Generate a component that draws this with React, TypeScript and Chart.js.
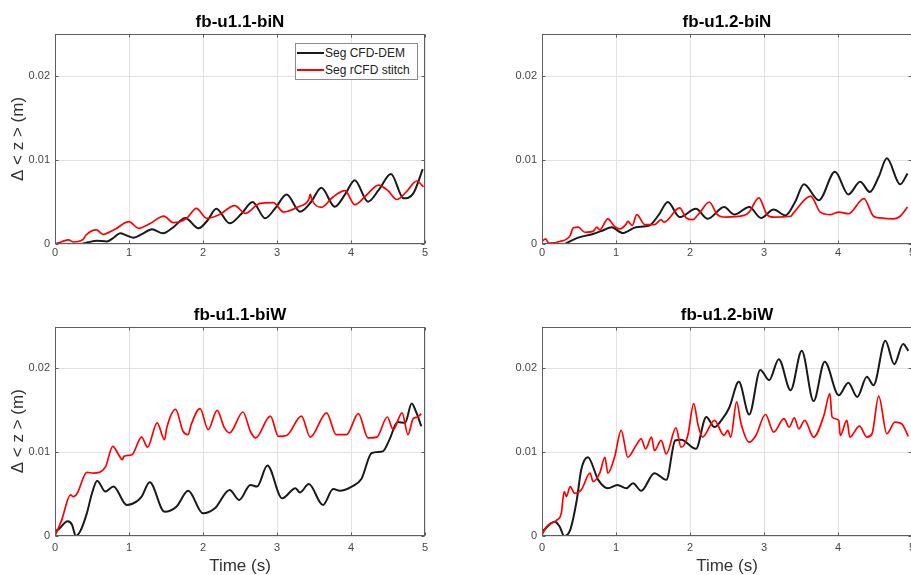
import { useEffect, useRef } from "react";
import { Chart, registerables } from "chart.js";

Chart.register(...registerables);

type Pt = [number, number]; // [time (s), Δ<z> (mm)]

const FONT = "'Liberation Sans', Arial, Helvetica, sans-serif";

const panelTitles = ["fb-u1.1-biN", "fb-u1.2-biN", "fb-u1.1-biW", "fb-u1.2-biW"];
const seriesNames = ["Seg CFD-DEM", "Seg rCFD stitch"];
const seriesColors = ["#1a1a1a", "#ff0000"];
const xTickValues = [0, 1, 2, 3, 4, 5];
const yTickValues = [0, 0.01, 0.02];
const xAxisLabel = "Time (s)";
const yAxisLabel = "Δ < z > (m)";

// ---- fb-u1.1-biN ----
const biN11Dem: Pt[] = [
  [0.23, 0], [0.34, 0], [0.45, 0.2], [0.56, 0.4], [0.7, 0.3], [0.8, 0.8], [0.88, 1.27],
  [0.97, 1.0], [1.06, 0.75], [1.18, 1.2], [1.31, 1.75], [1.46, 1.27], [1.6, 2.0],
  [1.76, 3.1], [1.94, 1.87], [2.06, 2.8], [2.18, 4.2], [2.36, 2.46], [2.52, 3.6],
  [2.67, 5.0], [2.84, 3.06], [2.98, 4.3], [3.13, 5.9], [3.31, 3.85], [3.46, 5.0],
  [3.6, 6.7], [3.78, 4.44], [3.92, 5.9], [4.05, 7.6], [4.23, 5.04], [4.38, 6.5],
  [4.54, 8.33], [4.71, 5.44], [4.84, 6.0], [4.97, 8.9],
];
const biN11Rcfd: Pt[] = [
  [0, 0], [0.1, 0.3], [0.18, 0.5], [0.25, 0.24], [0.38, 0.55], [0.42, 1.07], [0.56, 1.67],
  [0.65, 1.15], [0.81, 1.75], [1.0, 2.66], [1.13, 1.87], [1.28, 2.4], [1.47, 3.33],
  [1.6, 2.54], [1.78, 3.06], [1.91, 4.25], [2.05, 3.06], [2.21, 3.45], [2.43, 4.56],
  [2.57, 3.65], [2.77, 4.84], [2.95, 4.92], [3.09, 3.8], [3.29, 4.44], [3.43, 5.3],
  [3.45, 5.95], [3.47, 5.3], [3.6, 4.37], [3.76, 5.63], [3.92, 6.35], [4.05, 4.68],
  [4.21, 5.83], [4.37, 7.02], [4.5, 6.35], [4.62, 5.3], [4.75, 6.23], [4.89, 7.5], [4.98, 6.8],
];

// ---- fb-u1.2-biN ----
const biN12Dem: Pt[] = [
  [0.31, 0], [0.47, 0.7], [0.69, 1.2], [0.82, 1.6], [0.94, 2.0], [1.09, 1.3], [1.27, 2.0],
  [1.45, 2.2], [1.58, 3.5], [1.7, 5.0], [1.86, 3.2], [2.08, 4.2], [2.24, 3.0], [2.46, 4.4],
  [2.6, 3.5], [2.8, 4.4], [2.96, 3.1], [3.13, 4.1], [3.29, 3.4], [3.42, 5.0], [3.54, 7.1],
  [3.74, 5.2], [3.96, 8.6], [4.14, 5.9], [4.3, 7.4], [4.43, 6.2], [4.55, 8.0], [4.66, 10.2],
  [4.84, 7.1], [4.94, 8.4],
];
const biN12Rcfd: Pt[] = [
  [0, 0.3], [0.05, 0.6], [0.09, 0.1], [0.24, 0.3], [0.38, 1.0], [0.42, 1.9], [0.49, 2.0],
  [0.58, 1.4], [0.69, 1.5], [0.74, 2.0], [0.78, 1.7], [0.89, 3.0], [0.98, 2.1], [1.05, 1.8],
  [1.14, 2.4], [1.16, 2.7], [1.22, 2.2], [1.28, 3.5], [1.39, 2.3], [1.52, 2.3], [1.61, 2.9],
  [1.65, 2.6], [1.86, 4.3], [1.95, 3.1], [2.04, 2.9], [2.1, 3.4], [2.13, 3.7], [2.26, 5.0],
  [2.37, 3.5], [2.48, 3.2], [2.73, 3.4], [2.8, 3.8], [2.93, 5.5], [3.04, 3.5], [3.13, 3.2],
  [3.36, 3.3], [3.4, 3.7], [3.63, 5.7], [3.76, 3.8], [3.9, 3.5], [4.01, 3.8], [4.14, 3.6],
  [4.35, 5.4], [4.48, 3.3], [4.57, 3.1], [4.75, 3.0], [4.84, 3.3], [4.94, 4.4],
];

// ---- fb-u1.1-biW ----
const biW11Dem: Pt[] = [
  [0, 0.55], [0.05, 0.8], [0.17, 1.75], [0.23, 1.35], [0.28, 0], [0.34, 0.55], [0.43, 2.7],
  [0.5, 5.1], [0.57, 6.6], [0.68, 5.3], [0.79, 5.9], [0.97, 3.7], [1.1, 4.1], [1.17, 4.7],
  [1.28, 6.4], [1.48, 2.9], [1.64, 3.5], [1.8, 5.4], [2.0, 2.7], [2.16, 3.3], [2.36, 5.5],
  [2.49, 4.3], [2.64, 6.1], [2.73, 5.9], [2.87, 8.4], [3.07, 4.5], [3.25, 5.7], [3.31, 5.2],
  [3.43, 6.2], [3.62, 3.7], [3.76, 5.6], [3.85, 5.4], [4.01, 5.9], [4.14, 6.8], [4.28, 9.9],
  [4.43, 10.1], [4.52, 11.5], [4.63, 13.6], [4.73, 13.5], [4.82, 15.8], [4.88, 14.8],
  [4.95, 13.1],
];
const biW11Rcfd: Pt[] = [
  [0, 0], [0.09, 1.9], [0.21, 4.9], [0.25, 4.7], [0.3, 5.1], [0.43, 7.6], [0.52, 7.5],
  [0.68, 8.2], [0.78, 10.7], [0.86, 9.7], [0.91, 9.1], [0.93, 9.5], [1.04, 9.7], [1.17, 11.8],
  [1.25, 10.6], [1.38, 13.5], [1.48, 11.5], [1.51, 12.9], [1.63, 15.1], [1.73, 12.5],
  [1.8, 12.1], [1.84, 13.3], [1.96, 15.2], [2.07, 12.7], [2.19, 15.0], [2.29, 12.9],
  [2.36, 12.3], [2.54, 14.8], [2.64, 12.5], [2.71, 11.7], [2.91, 14.3], [3.02, 11.9],
  [3.13, 12.0], [3.33, 14.3], [3.45, 11.8], [3.67, 14.7], [3.8, 12.1], [3.94, 12.1],
  [4.1, 14.6], [4.23, 11.7], [4.35, 11.8], [4.49, 14.2], [4.57, 12.7], [4.69, 14.7],
  [4.77, 12.1], [4.84, 14.0], [4.9, 14.2], [4.95, 14.6],
];

// ---- fb-u1.2-biW ----
const biW12Dem: Pt[] = [
  [0, 0.5], [0.17, 1.7], [0.24, 1.1], [0.3, 0], [0.38, 0.7], [0.47, 4.3], [0.53, 7.9],
  [0.62, 9.4], [0.76, 6.7], [0.89, 5.7], [1.02, 6.1], [1.14, 5.7], [1.23, 6.3], [1.34, 5.4],
  [1.52, 7.5], [1.68, 6.7], [1.8, 11.4], [1.88, 11.5], [2.08, 10.4], [2.22, 14.2],
  [2.33, 13.0], [2.44, 14.0], [2.53, 15.3], [2.66, 18.4], [2.8, 14.5], [2.95, 19.8],
  [3.07, 18.6], [3.2, 21.1], [3.36, 17.4], [3.51, 22.1], [3.67, 16.1], [3.82, 20.8],
  [4.01, 16.8], [4.14, 18.3], [4.26, 16.6], [4.39, 19.0], [4.48, 18.0], [4.64, 23.3],
  [4.76, 20.5], [4.88, 22.9], [4.95, 22.1],
];
const biW12Rcfd: Pt[] = [
  [0, 0.1], [0.06, 1.1], [0.2, 1.9], [0.26, 2.7], [0.3, 5.3], [0.33, 4.7], [0.38, 5.9],
  [0.44, 5.1], [0.53, 5.5], [0.65, 7.5], [0.69, 6.5], [0.78, 7.5], [0.85, 9.4], [0.89, 7.5],
  [0.98, 9.4], [1.07, 12.6], [1.16, 9.4], [1.27, 10.8], [1.34, 11.6], [1.4, 10.4],
  [1.48, 11.8], [1.52, 10.2], [1.61, 11.4], [1.68, 9.8], [1.81, 12.9], [1.88, 10.6],
  [1.97, 12.0], [2.05, 15.8], [2.11, 13.2], [2.17, 11.8], [2.33, 13.8], [2.46, 12.0],
  [2.51, 12.6], [2.55, 11.8], [2.63, 16.0], [2.69, 13.4], [2.8, 11.2], [2.89, 12.0],
  [3.02, 14.5], [3.13, 12.4], [3.27, 14.0], [3.34, 13.0], [3.41, 14.1], [3.47, 12.8],
  [3.55, 13.8], [3.67, 11.8], [3.81, 14.4], [3.89, 17.0], [3.92, 14.2], [4.01, 13.8],
  [4.03, 12.0], [4.12, 13.8], [4.16, 11.8], [4.29, 13.1], [4.39, 11.8], [4.46, 12.2],
  [4.55, 16.7], [4.66, 12.2], [4.77, 13.6], [4.86, 13.4], [4.95, 11.9],
];

type Geom = {
  x: number; y: number; w: number; h: number;
  yWidth: number; padRight: number; titleTop: number; titleBottom: number;
  xHeight: number; tickPad: number; showY: boolean; showX: boolean;
};

// MATLAB-style box around the axes with short inward tick marks on all four sides
const boxPlugin = {
  id: "matlabBox",
  afterDraw(chart: any) {
    const { ctx, chartArea, scales } = chart;
    const l = Math.round(chartArea.left) + 0.5;
    const t = Math.round(chartArea.top) + 0.5;
    const r = Math.round(chartArea.right) - 0.5;
    const b = Math.round(chartArea.bottom) - 0.5;
    ctx.save();
    ctx.strokeStyle = "#5e5e5e";
    ctx.lineWidth = 1;
    ctx.strokeRect(l, t, r - l, b - t);
    ctx.beginPath();
    const len = 3;
    for (const v of xTickValues) {
      const px = Math.round(scales.x.getPixelForValue(v)) + 0.5;
      ctx.moveTo(px, b);
      ctx.lineTo(px, b - len);
      ctx.moveTo(px, t);
      ctx.lineTo(px, t + len);
    }
    for (const v of yTickValues) {
      const py = Math.round(scales.y.getPixelForValue(v)) + 0.5;
      ctx.moveTo(l, py);
      ctx.lineTo(l + len, py);
      ctx.moveTo(r, py);
      ctx.lineTo(r - len, py);
    }
    ctx.stroke();
    ctx.restore();
  },
};

function Panel({ geom, title, dem, rcfd }: { geom: Geom; title: string; dem: Pt[]; rcfd: Pt[] }) {
  const ref = useRef<HTMLCanvasElement>(null);
  useEffect(() => {
    const chart = new Chart(ref.current as HTMLCanvasElement, {
      type: "line",
      data: {
        datasets: [
          {
            label: seriesNames[0],
            data: dem.map(([t, v]) => ({ x: t, y: v / 1000 })),
            borderColor: seriesColors[0],
            borderWidth: 2,
            pointRadius: 0,
            cubicInterpolationMode: "monotone",
            order: 1,
          },
          {
            label: seriesNames[1],
            data: rcfd.map(([t, v]) => ({ x: t, y: v / 1000 })),
            borderColor: seriesColors[1],
            borderWidth: 1.7,
            pointRadius: 0,
            cubicInterpolationMode: "monotone",
            order: 0,
          },
        ],
      } as any,
      options: {
        responsive: false,
        animation: false,
        events: [],
        layout: { padding: { left: 0, right: geom.padRight, top: 0, bottom: 0 } },
        plugins: {
          legend: { display: false },
          tooltip: { enabled: false },
          title: {
            display: true,
            text: title,
            fullSize: false,
            color: "#000",
            font: { family: FONT, size: 17, weight: "bold", lineHeight: 1.2 },
            padding: { top: geom.titleTop, bottom: geom.titleBottom },
          },
        },
        scales: {
          x: {
            type: "linear",
            min: 0,
            max: 5,
            afterBuildTicks: (s: any) => {
              s.ticks = xTickValues.map((v) => ({ value: v }));
            },
            afterFit: (s: any) => {
              s.height = geom.xHeight;
            },
            grid: { color: "#e2e2e2", lineWidth: 1, drawTicks: false },
            border: { display: false },
            ticks: {
              color: "#474747",
              padding: geom.tickPad,
              maxRotation: 0,
              font: { family: FONT, size: 11 },
            },
            title: {
              display: geom.showX,
              text: xAxisLabel,
              color: "#333",
              font: { family: FONT, size: 17, lineHeight: 1 },
              padding: { top: 0, bottom: 0 },
            },
          },
          y: {
            type: "linear",
            min: 0,
            max: 0.025,
            afterBuildTicks: (s: any) => {
              s.ticks = yTickValues.map((v) => ({ value: v }));
            },
            afterFit: (s: any) => {
              s.width = geom.yWidth;
            },
            grid: { color: "#e2e2e2", lineWidth: 1, drawTicks: false },
            border: { display: false },
            ticks: {
              color: "#474747",
              padding: 5,
              font: { family: FONT, size: 11 },
              callback: (v: any) => String(+Number(v).toFixed(4)),
            },
            title: {
              display: geom.showY,
              text: yAxisLabel,
              color: "#333",
              font: { family: FONT, size: 17, lineHeight: 1.2 },
              padding: { top: 8, bottom: 0 },
            },
          },
        },
      } as any,
      plugins: [boxPlugin],
    });
    return () => chart.destroy();
  }, [geom, title, dem, rcfd]);
  return (
    <canvas
      ref={ref}
      width={geom.w}
      height={geom.h}
      style={{ position: "absolute", left: geom.x, top: geom.y, width: geom.w, height: geom.h }}
    />
  );
}

const geoms: Geom[] = [
  { x: 0, y: 0, w: 455, h: 290, yWidth: 55, padRight: 30, titleTop: 12, titleBottom: 1.6, xHeight: 46, tickPad: 2, showY: true, showX: false },
  { x: 455, y: 0, w: 480, h: 290, yWidth: 87, padRight: 23, titleTop: 12, titleBottom: 1.6, xHeight: 46, tickPad: 2, showY: false, showX: false },
  { x: 0, y: 290, w: 455, h: 285, yWidth: 55, padRight: 30, titleTop: 15, titleBottom: 1.1, xHeight: 39, tickPad: 5, showY: true, showX: true },
  { x: 455, y: 290, w: 480, h: 285, yWidth: 87, padRight: 23, titleTop: 15, titleBottom: 1.1, xHeight: 39, tickPad: 5, showY: false, showX: true },
];

const panelData: [Pt[], Pt[]][] = [
  [biN11Dem, biN11Rcfd],
  [biN12Dem, biN12Rcfd],
  [biW11Dem, biW11Rcfd],
  [biW12Dem, biW12Rcfd],
];

function Legend() {
  const row = (i: number) => (
    <div style={{ display: "flex", alignItems: "center", height: 16.7 }}>
      <div style={{ width: 27, height: 2, background: seriesColors[i], marginLeft: 1, marginRight: 1 }} />
      <span style={{ whiteSpace: "nowrap" }}>{seriesNames[i]}</span>
    </div>
  );
  return (
    <div
      style={{
        position: "absolute",
        left: 295,
        top: 43,
        width: 123,
        height: 37,
        boxSizing: "border-box",
        border: "1px solid #8a8a8a",
        background: "#fff",
        fontFamily: FONT,
        fontSize: 12,
        color: "#222",
        paddingTop: 1,
        lineHeight: "16.7px",
      }}
    >
      {row(0)}
      {row(1)}
    </div>
  );
}

export default function App() {
  return (
    <div
      style={{
        position: "fixed",
        left: 0,
        top: 0,
        width: 911,
        height: 575,
        overflow: "hidden",
        background: "#fff",
      }}
    >
      {geoms.map((g, i) => (
        <Panel key={i} geom={g} title={panelTitles[i]} dem={panelData[i][0]} rcfd={panelData[i][1]} />
      ))}
      <Legend />
    </div>
  );
}
